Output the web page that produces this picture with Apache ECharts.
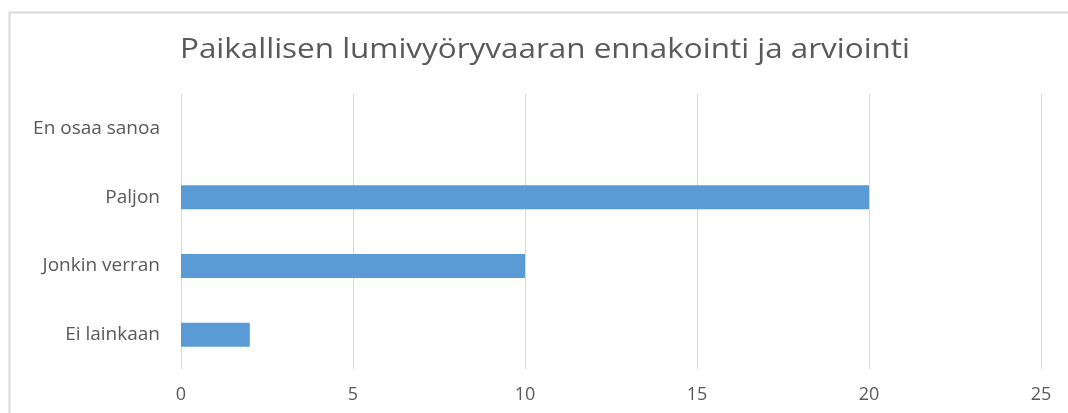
<!DOCTYPE html>
<html>
<head>
<meta charset="utf-8">
<script src="https://cdn.jsdelivr.net/npm/echarts@6/dist/echarts.min.js"></script>
<style>
  html, body { margin: 0; padding: 0; background: #fff; }
  #chart { width: 1068px; height: 413px; }
</style>
</head>
<body>
<div id="chart"></div>
<script>
// Chart data
var chartTitle = 'Paikallisen lumivyöryvaaran ennakointi ja arviointi';
var categories = ['Ei lainkaan', 'Jonkin verran', 'Paljon', 'En osaa sanoa'];
var answers = [2, 10, 20, 0];
var xTicks = [0, 5, 10, 15, 20, 25];

var titleFont = '27px "Open Sans"';

// The title in the picture is wider than the font draws it, so stretch it
function titleScale(wanted) {
    var ctx = document.createElement('canvas').getContext('2d');
    ctx.font = titleFont;
    return wanted / ctx.measureText(chartTitle).width;
}

var chart = echarts.init(document.getElementById('chart'));

var option = {
    backgroundColor: '#ffffff',
    animation: false,
    textStyle: { fontFamily: 'Open Sans' },
    graphic: [
        {
            type: 'rect',
            shape: { x: 9.5, y: 12.5, width: 1200, height: 600 },
            style: { fill: 'none', stroke: '#d9d9d9', lineWidth: 2 },
            silent: true
        },
        {
            type: 'text',
            x: 545,
            y: 50,
            scaleX: titleScale(730),
            style: {
                text: chartTitle,
                font: titleFont,
                fill: '#595959',
                align: 'center',
                verticalAlign: 'middle'
            },
            silent: true
        }
    ],
    grid: { left: 181, right: 27, top: 94, bottom: 44 },
    xAxis: {
        type: 'value',
        min: xTicks[0],
        max: xTicks[xTicks.length - 1],
        interval: 5,
        axisLine: { show: false },
        axisTick: { show: false },
        axisLabel: { color: '#595959', fontSize: 18, margin: 17 },
        splitLine: { lineStyle: { color: '#d9d9d9', width: 1 } }
    },
    yAxis: {
        type: 'category',
        data: categories,
        axisLine: { show: false },
        axisTick: { show: false },
        axisLabel: { color: '#595959', fontSize: 19, margin: 21 }
    },
    series: [
        {
            type: 'bar',
            data: answers,
            barWidth: 24,
            itemStyle: { color: '#5b9bd5' }
        }
    ]
};

chart.setOption(option);
</script>
</body>
</html>
